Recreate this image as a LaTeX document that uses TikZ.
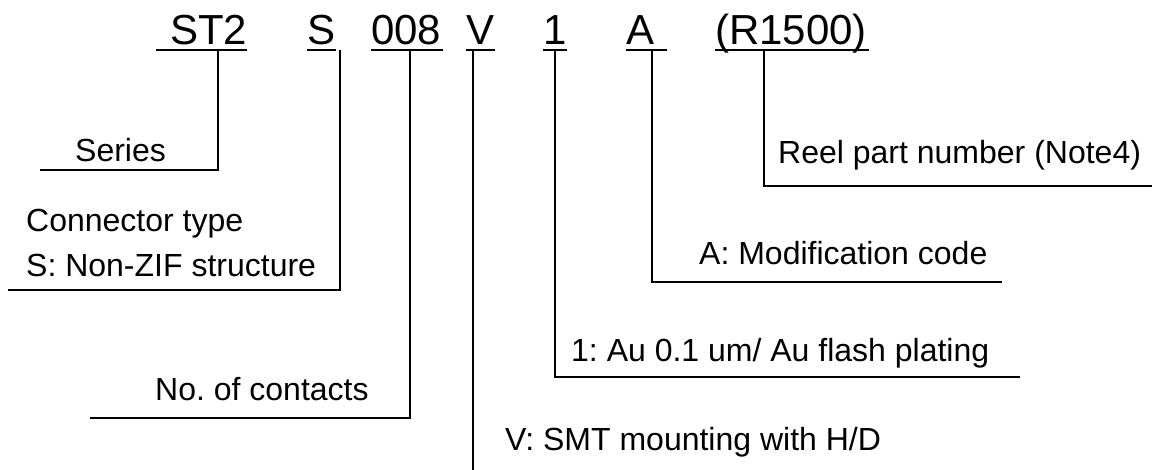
\documentclass[tikz,border=0pt]{standalone}
\usepackage{fontspec}
\setmainfont{Liberation Sans}
\frenchspacing
\begin{document}
\begin{tikzpicture}[x=1pt,y=-1pt,
  code/.style={font=\fontsize{42}{50}\selectfont, inner sep=0pt, anchor=base west},
  lbl/.style={font=\fontsize{32}{38}\selectfont, inner sep=0pt, anchor=base west},
  uline/.style={line width=2.6pt},
  lead/.style={line width=1.3pt}]
\useasboundingbox (0,0) rectangle (1152,470);
\fill[white] (0,0) rectangle (1152,470);

% code parts
\node[code] (st2) at (170,45) {ST2};
\node[code] (s)   at (307,45) {S};
\node[code] (n008) at (371,45) {008};
\node[code] (v)   at (466,45) {V};
\node[code] (one) at (543,45) {1};
\node[code] (a)   at (626,45) {A};
\node[code] (r)   at (715,45) {(R1500)};

% underlines
\draw[uline] (156,50) -- (247,50);
\draw[uline] (307,50) -- (336,50);
\draw[uline] (371,50) -- (443,50);
\draw[uline] (466,50) -- (495,50);
\draw[uline] (543,50) -- (567,50);
\draw[uline] (626,50) -- (667,50);
\draw[uline] (715,50) -- (869,50);

% leader coordinates
\coordinate (p1) at (218,50);  \coordinate (c1) at (218,170); \coordinate (e1) at (40,170);
\coordinate (p2) at (340,50);  \coordinate (c2) at (340,290); \coordinate (e2) at (8,290);
\coordinate (p3) at (410,50);  \coordinate (c3) at (410,418); \coordinate (e3) at (90,418);
\coordinate (p4) at (473,50);  \coordinate (e4) at (473,470);
\coordinate (p5) at (555,50);  \coordinate (c5) at (555,377); \coordinate (e5) at (1020,377);
\coordinate (p6) at (652,50);  \coordinate (c6) at (652,282); \coordinate (e6) at (1002,282);
\coordinate (p7) at (764,50);  \coordinate (c7) at (764,186); \coordinate (e7) at (1152,186);

\draw[lead] (p1) -- (c1) -- (e1);
\draw[lead] (p2) -- (c2) -- (e2);
\draw[lead] (p3) -- (c3) -- (e3);
\draw[lead] (p4) -- (e4);
\draw[lead] (p5) -- (c5) -- (e5);
\draw[lead] (p6) -- (c6) -- (e6);
\draw[lead] (p7) -- (c7) -- (e7);

% labels
\node[lbl] (lseries) at (75,162) {Series};
\node[lbl] (lconn1) at (26,232) {Connector type};
\node[lbl] (lconn2) at (26,277) {S: Non-ZIF structure};
\node[lbl] (lcont) at (155,400) {No. of contacts};
\node[lbl] (lreel) at (778,164) {Reel part number (Note4)};
\node[lbl] (lmod) at (699,265) {A: Modification code};
\node[lbl] (lplat) at (571,362) {1: Au 0.1 um/ Au flash plating};
\node[lbl] (lsmt) at (505,450) {V: SMT mounting with H/D};
\end{tikzpicture}
\end{document}
